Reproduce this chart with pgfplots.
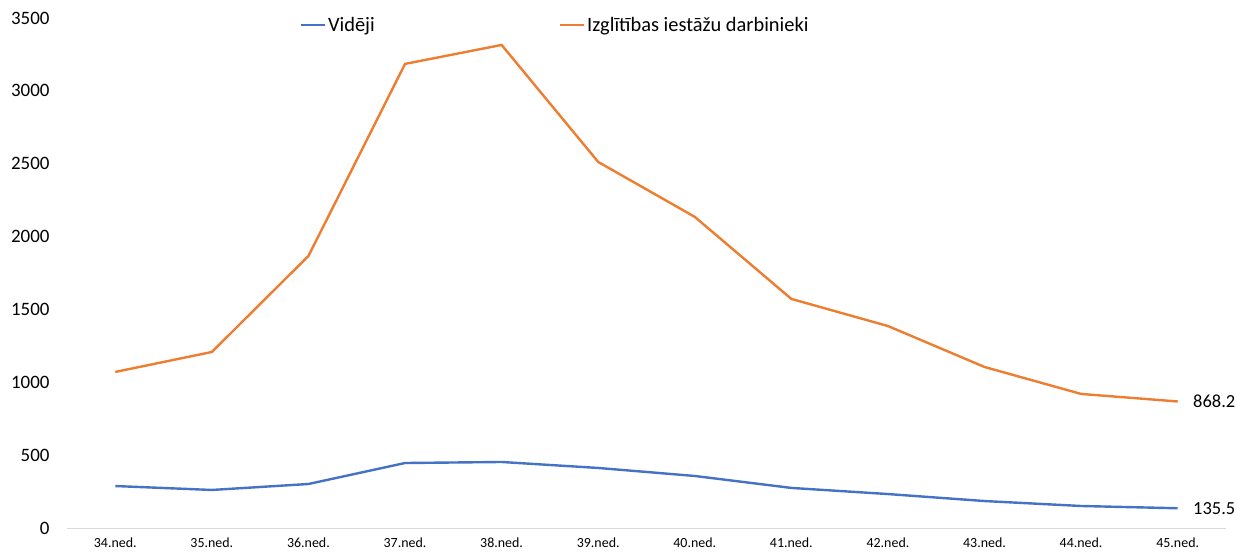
\documentclass[border=0pt]{standalone}
\usepackage{pgfplots}
\pgfplotsset{compat=1.18}
\usepackage{fontspec}
\setmainfont{Carlito}
\definecolor{cblue}{HTML}{4472C4}
\definecolor{corange}{HTML}{ED7D31}
\definecolor{cgrid}{HTML}{D9D9D9}
\begin{document}
\begin{tikzpicture}
\useasboundingbox (-67bp,-26bp) rectangle (1170bp,528bp);
\begin{axis}[
  at={(0,0)}, anchor=south west,
  scale only axis,
  width=1159bp, height=510bp,
  xmin=-0.5, xmax=11.5,
  ymin=0, ymax=3500,
  ytick={0,500,...,3500},
  xtick={0,...,11},
  xticklabels={34.ned.,35.ned.,36.ned.,37.ned.,38.ned.,39.ned.,40.ned.,41.ned.,42.ned.,43.ned.,44.ned.,45.ned.},
  axis x line*=bottom, axis y line*=left,
  x axis line style={draw=cgrid, line width=1bp},
  y axis line style={draw=none},
  major tick length=0pt,
  /pgf/number format/1000 sep={},
  /pgf/number format/assume math mode=true,
  yticklabel style={font=\fontsize{19}{21}\selectfont, anchor=east, xshift=-14bp},
  xticklabel style={font=\fontsize{14}{16}\selectfont, anchor=north, yshift=-6bp},
  clip=false,
  legend style={at={(0.198,1.01)}, anchor=north west, draw=none, fill=none,
    font=\fontsize{20.5}{22}\selectfont, legend columns=2,
    /tikz/every even column/.append style={column sep=182bp}},
  legend image code/.code={\draw[#1] (0bp,0bp) -- (24bp,0bp);},
]
\addplot[cblue, line width=2.4bp] coordinates {
(0,288) (1,261) (2,302) (3,446) (4,453) (5,412) (6,357) (7,275) (8,233) (9,185) (10,151) (11,135.5)};
\addlegendentry{Vidēji}
\addplot[corange, line width=2.4bp] coordinates {
(0,1071) (1,1208) (2,1867) (3,3185) (4,3315) (5,2512) (6,2135) (7,1572) (8,1386) (9,1105) (10,920) (11,868.2)};
\addlegendentry{Izglītības iestāžu darbinieki}
\node[anchor=west, font=\fontsize{18.5}{20}\selectfont, xshift=12bp] at (axis cs:11,868.2) {868.2};
\node[anchor=west, font=\fontsize{18.5}{20}\selectfont, xshift=12bp] at (axis cs:11,135.5) {135.5};
\end{axis}
\end{tikzpicture}
\end{document}
